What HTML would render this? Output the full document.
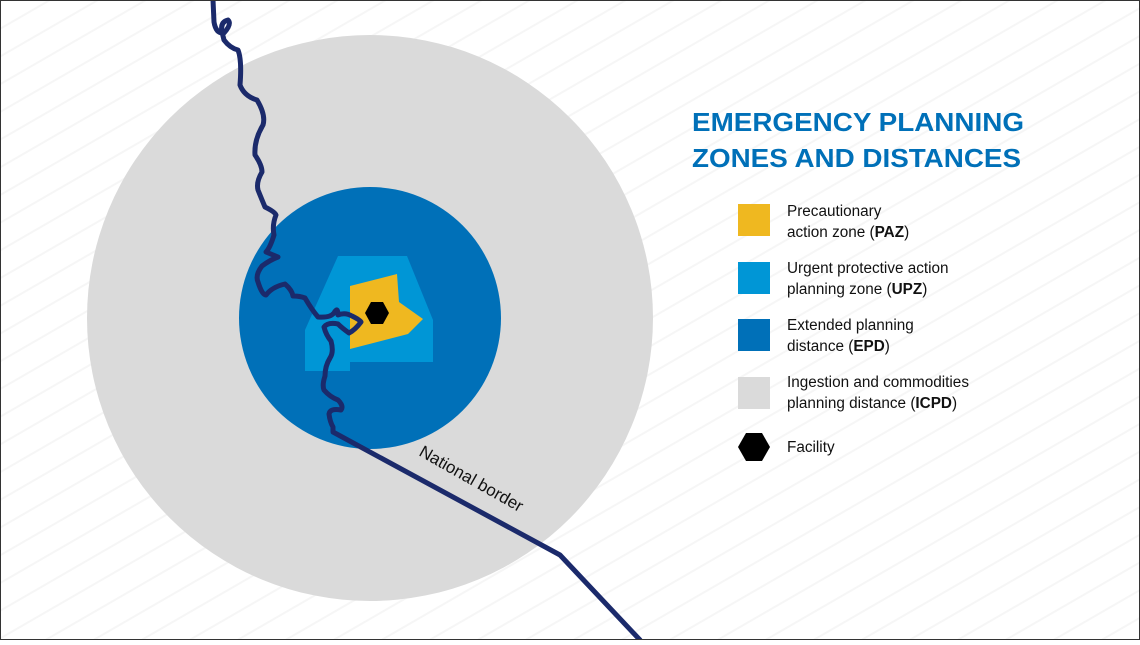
<!DOCTYPE html>
<html><head><meta charset="utf-8"><style>
html,body{margin:0;padding:0;}
body{width:1140px;height:640px;overflow:hidden;font-family:"Liberation Sans",sans-serif;}
</style></head><body>
<svg width="1140" height="640" viewBox="0 0 1140 640" xmlns="http://www.w3.org/2000/svg" font-family="Liberation Sans, sans-serif">
<defs>
<pattern id="st" width="24" height="24" patternUnits="userSpaceOnUse" patternTransform="rotate(-30)">
<rect width="24" height="24" fill="#ffffff"/>
<rect width="24" height="2" fill="#f6f6f6"/>
</pattern>
</defs>
<rect x="0" y="0" width="1140" height="640" fill="url(#st)"/>
<circle cx="370" cy="318" r="283" fill="#dadada"/>
<circle cx="370" cy="318" r="131" fill="#0070b8"/>
<polygon points="338,256 407,256 433,320 433,362 350,362 350,371 305,371 305,330" fill="#0096d6"/>
<polygon points="350,286 397,274 399,302 423,319 408,334 350,349" fill="#efb820"/>
<polygon points="365,313 371,302 383,302 389,313 383,324 371,324" fill="#000"/>
<path d="M213,0 L214,22 Q216,34 224,33 Q232,24 228,20 Q220,22 222,32 L224,40 Q230,48 238,50 Q242,60 240,85 Q244,96 257,100 Q266,115 263,125 Q254,140 255,155 Q262,165 262,172 Q256,182 258,190 Q262,200 265,207 Q275,212 276,215 Q272,225 274,235 Q270,248 266,252 L278,257 Q270,260 262,266 Q255,275 258,282 Q262,295 266,295 Q272,287 285,284 Q292,290 293,296 Q300,296 305,298 Q312,310 318,317 Q330,318 334,313 Q338,306 338,315 Q345,312 352,316 Q360,320 361,322 Q355,330 349,333 Q342,328 338,324 Q328,322 324,327 Q326,335 331,341 Q334,352 330,358 Q325,366 325,376 Q322,385 324,390 Q330,397 338,400 Q344,406 341,410 Q330,408 329,414 Q330,422 333,427 L333,432 L560,555 L640,640" fill="none" stroke="#1b2a6b" stroke-width="5" stroke-linejoin="round" stroke-linecap="round"/>
<text x="0" y="0" font-size="17" fill="#111" transform="translate(418,455) rotate(29.5)">National border</text>
<text x="692" y="131" font-size="26" font-weight="bold" fill="#0070b8" textLength="332" lengthAdjust="spacingAndGlyphs">EMERGENCY PLANNING</text>
<text x="692" y="167" font-size="26" font-weight="bold" fill="#0070b8" textLength="329" lengthAdjust="spacingAndGlyphs">ZONES AND DISTANCES</text>
<rect x="738" y="204" width="32" height="32" fill="#efb820"/>
<rect x="738" y="262" width="32" height="32" fill="#0096d6"/>
<rect x="738" y="319" width="32" height="32" fill="#0070b8"/>
<rect x="738" y="377" width="32" height="32" fill="#dadada"/>
<polygon points="738,447 746,433 762,433 770,447 762,461 746,461" fill="#000"/>
<g font-size="15.3" fill="#111">
<text x="787" y="216">Precautionary</text>
<text x="787" y="237">action zone (<tspan font-weight="bold">PAZ</tspan>)</text>
<text x="787" y="273">Urgent protective action</text>
<text x="787" y="294">planning zone (<tspan font-weight="bold">UPZ</tspan>)</text>
<text x="787" y="330">Extended planning</text>
<text x="787" y="351">distance (<tspan font-weight="bold">EPD</tspan>)</text>
<text x="787" y="387">Ingestion and commodities</text>
<text x="787" y="408">planning distance (<tspan font-weight="bold">ICPD</tspan>)</text>
<text x="787" y="452">Facility</text>
</g>
<rect x="0.5" y="0.5" width="1139" height="639" fill="none" stroke="#333" stroke-width="1"/>
</svg>
</body></html>
